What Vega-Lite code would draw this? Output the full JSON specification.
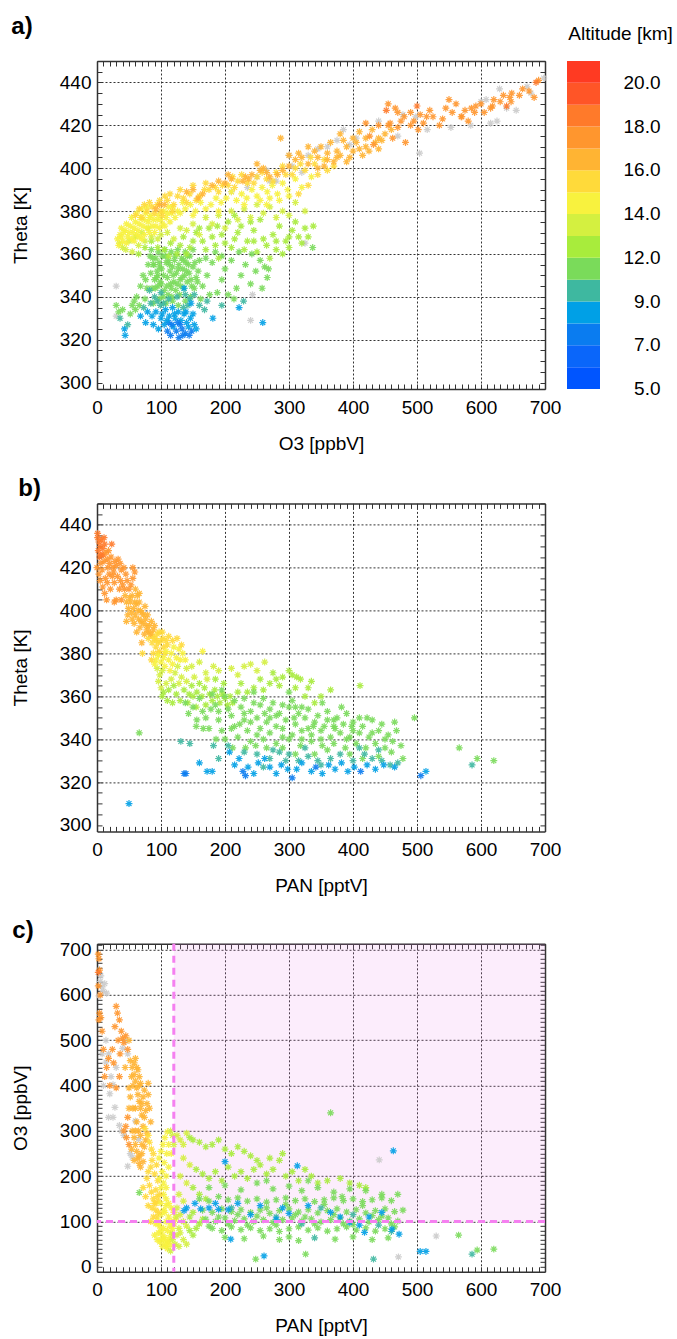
{
"$schema": "https://vega.github.io/schema/vega-lite/v6.json",
"padding": {"left": 11, "top": 15, "right": 0, "bottom": 0},
"background": "white",
"config": {
  "font": "Liberation Sans",
  "view": {"stroke": null},
  "title": {"fontSize": 24, "fontWeight": "bold", "anchor": "start", "frame": "bounds", "color": "#000", "font": "Liberation Sans"},
  "axis": {"labelFont": "Liberation Sans", "labelFontSize": 19, "labelColor": "#000", "titleFont": "Liberation Sans", "titleFontSize": 19, "titleFontWeight": "normal", "titleColor": "#000", "tickSize": -5, "tickColor": "#333", "tickWidth": 1, "domainColor": "#333", "domainWidth": 1.5, "labelFlush": false, "labelOverlap": false, "gridColor": "#333", "gridDash": [2, 2], "gridWidth": 1}
},
"datasets": {
"bar": [{"alt":5},{"alt":6},{"alt":7},{"alt":8},{"alt":9},{"alt":10.5},{"alt":12},{"alt":13},{"alt":14},{"alt":15},{"alt":16},{"alt":17},{"alt":18},{"alt":19},{"alt":20}],
"A": [
{"o3":305,"theta":401},{"o3":320,"theta":398},{"o3":360,"theta":410},{"o3":375,"theta":413},{"o3":395,"theta":411},{"o3":405,"theta":414},{"o3":440,"theta":422},{"o3":470,"theta":415},{"o3":478,"theta":425},{"o3":498,"theta":424},{"o3":504,"theta":407},{"o3":516,"theta":418},{"o3":553,"theta":419},{"o3":584,"theta":420},{"o3":615,"theta":421},{"o3":625,"theta":422},{"o3":608,"theta":432},{"o3":640,"theta":428},{"o3":672,"theta":438},{"o3":678,"theta":435},{"o3":629,"theta":437},{"o3":655,"theta":427},{"o3":600,"theta":431},{"o3":698,"theta":442},{"o3":250,"theta":396},{"o3":265,"theta":399},{"o3":210,"theta":389},{"o3":385,"theta":418},{"o3":330,"theta":406},{"o3":280,"theta":394},{"o3":300,"theta":406},{"o3":30,"theta":345},{"o3":30,"theta":331},{"o3":240,"theta":329},{"o3":243,"theta":341},{"o3":325,"theta":365},{"o3":270,"theta":394},{"o3":345,"theta":409},{"o3":235,"theta":391},
{"o3":88,"theta":337,"alt":11},{"o3":97,"theta":339,"alt":11},{"o3":108,"theta":337,"alt":11},{"o3":118,"theta":338,"alt":11},{"o3":127,"theta":336,"alt":11},{"o3":138,"theta":338,"alt":11},{"o3":146,"theta":340,"alt":11},
{"o3":86,"theta":344,"alt":11},{"o3":95,"theta":345,"alt":11},{"o3":105,"theta":343,"alt":11},{"o3":116,"theta":344,"alt":11},{"o3":125,"theta":346,"alt":11},{"o3":136,"theta":344,"alt":11},{"o3":148,"theta":345,"alt":11},
{"o3":90,"theta":348,"alt":11},{"o3":99,"theta":347,"alt":11},{"o3":110,"theta":349,"alt":11},{"o3":120,"theta":347,"alt":11},{"o3":130,"theta":348,"alt":11},{"o3":141,"theta":347,"alt":11},{"o3":155,"theta":349,"alt":11},
{"o3":84,"theta":351,"alt":11},{"o3":94,"theta":352,"alt":11},{"o3":104,"theta":350,"alt":11},{"o3":114,"theta":352,"alt":11},{"o3":124,"theta":351,"alt":11},{"o3":134,"theta":353,"alt":11},{"o3":144,"theta":351,"alt":11},{"o3":158,"theta":352,"alt":11},
{"o3":88,"theta":355,"alt":11},{"o3":98,"theta":354,"alt":11},{"o3":108,"theta":356,"alt":11},{"o3":118,"theta":354,"alt":11},{"o3":128,"theta":355,"alt":11},{"o3":139,"theta":356,"alt":11},{"o3":150,"theta":354,"alt":11},
{"o3":92,"theta":358,"alt":11},{"o3":102,"theta":359,"alt":11},{"o3":112,"theta":357,"alt":11},{"o3":122,"theta":359,"alt":11},{"o3":132,"theta":358,"alt":11},{"o3":145,"theta":359,"alt":11},{"o3":160,"theta":357,"alt":11},
{"o3":96,"theta":361,"alt":11},{"o3":106,"theta":362,"alt":11},{"o3":116,"theta":361,"alt":11},{"o3":126,"theta":362,"alt":11},{"o3":138,"theta":361,"alt":11},{"o3":150,"theta":362,"alt":11},
{"o3":100,"theta":346,"alt":11},{"o3":113,"theta":355,"alt":11},{"o3":123,"theta":343,"alt":11},{"o3":133,"theta":349,"alt":11},{"o3":143,"theta":355,"alt":11},{"o3":107,"theta":359,"alt":11},{"o3":119,"theta":350,"alt":11},{"o3":129,"theta":341,"alt":11},{"o3":95,"theta":350,"alt":11},{"o3":89,"theta":355,"alt":11},{"o3":140,"theta":352,"alt":11},{"o3":152,"theta":344,"alt":11},{"o3":103,"theta":340,"alt":11},{"o3":115,"theta":346,"alt":11},{"o3":135,"theta":357,"alt":11},
{"o3":91,"theta":344,"alt":11},{"o3":101,"theta":353,"alt":11},{"o3":111,"theta":341,"alt":11},{"o3":121,"theta":357,"alt":11},{"o3":131,"theta":345,"alt":11},{"o3":141,"theta":359,"alt":11},{"o3":93,"theta":349,"alt":11},{"o3":109,"theta":345,"alt":11},{"o3":127,"theta":353,"alt":11},{"o3":147,"theta":348,"alt":11},{"o3":137,"theta":350,"alt":11},{"o3":117,"theta":340,"alt":11},{"o3":87,"theta":358,"alt":11},{"o3":97,"theta":356,"alt":11},{"o3":153,"theta":356,"alt":11},{"o3":157,"theta":347,"alt":11},
{"o3":62,"theta":340,"alt":11},{"o3":68,"theta":345,"alt":11},{"o3":75,"theta":339,"alt":11},{"o3":72,"theta":350,"alt":11},{"o3":80,"theta":355,"alt":11},{"o3":78,"theta":344,"alt":11},{"o3":66,"theta":336,"alt":11},{"o3":58,"theta":338,"alt":11},{"o3":83,"theta":359,"alt":11},{"o3":60,"theta":334,"alt":11},{"o3":55,"theta":336,"alt":11},{"o3":30,"theta":336,"alt":11},{"o3":34,"theta":333,"alt":11},{"o3":40,"theta":334,"alt":11},{"o3":52,"theta":332,"alt":11},{"o3":76,"theta":348,"alt":11},{"o3":85,"theta":362,"alt":11},
{"o3":165,"theta":345,"alt":11},{"o3":172,"theta":350,"alt":11},{"o3":180,"theta":356,"alt":11},{"o3":188,"theta":342,"alt":11},{"o3":195,"theta":348,"alt":11},{"o3":200,"theta":353,"alt":11},{"o3":210,"theta":357,"alt":11},{"o3":218,"theta":344,"alt":11},{"o3":225,"theta":350,"alt":11},{"o3":232,"theta":355,"alt":11},{"o3":240,"theta":346,"alt":11},{"o3":248,"theta":352,"alt":11},{"o3":255,"theta":357,"alt":11},{"o3":262,"theta":354,"alt":11},{"o3":268,"theta":353,"alt":11},{"o3":176,"theta":341,"alt":11},{"o3":205,"theta":341,"alt":11},{"o3":214,"theta":339,"alt":11},{"o3":185,"theta":361,"alt":11},{"o3":162,"theta":339,"alt":11},{"o3":170,"theta":358,"alt":11},{"o3":195,"theta":359,"alt":11},{"o3":242,"theta":360,"alt":11},{"o3":258,"theta":344,"alt":11},{"o3":266,"theta":349,"alt":11},{"o3":337,"theta":363,"alt":11},{"o3":222,"theta":361,"alt":11},
{"o3":105,"theta":362,"alt":12.5},{"o3":115,"theta":365,"alt":12.5},{"o3":125,"theta":360,"alt":12.5},{"o3":135,"theta":368,"alt":12.5},{"o3":145,"theta":363,"alt":12.5},{"o3":155,"theta":370,"alt":12.5},{"o3":165,"theta":366,"alt":12.5},{"o3":175,"theta":372,"alt":12.5},{"o3":185,"theta":364,"alt":12.5},{"o3":195,"theta":369,"alt":12.5},{"o3":205,"theta":375,"alt":12.5},{"o3":215,"theta":367,"alt":12.5},{"o3":225,"theta":373,"alt":12.5},{"o3":235,"theta":366,"alt":12.5},{"o3":245,"theta":371,"alt":12.5},{"o3":255,"theta":376,"alt":12.5},{"o3":265,"theta":364,"alt":12.5},{"o3":275,"theta":369,"alt":12.5},{"o3":285,"theta":373,"alt":12.5},{"o3":295,"theta":366,"alt":12.5},{"o3":305,"theta":371,"alt":12.5},{"o3":315,"theta":368,"alt":12.5},{"o3":325,"theta":372,"alt":12.5},{"o3":270,"theta":358,"alt":12.5},{"o3":280,"theta":362,"alt":12.5},{"o3":290,"theta":360,"alt":12.5},{"o3":300,"theta":363,"alt":12.5},{"o3":320,"theta":365,"alt":12.5},{"o3":250,"theta":361,"alt":12.5},{"o3":260,"theta":367,"alt":12.5},{"o3":230,"theta":362,"alt":12.5},{"o3":210,"theta":363,"alt":12.5},{"o3":190,"theta":358,"alt":12.5},{"o3":170,"theta":362,"alt":12.5},{"o3":150,"theta":366,"alt":12.5},{"o3":140,"theta":360,"alt":12.5},{"o3":130,"theta":364,"alt":12.5},{"o3":112,"theta":359,"alt":12.5},{"o3":180,"theta":368,"alt":12.5},{"o3":240,"theta":375,"alt":12.5},{"o3":200,"theta":365,"alt":12.5},{"o3":220,"theta":370,"alt":12.5},{"o3":310,"theta":375,"alt":12.5},{"o3":338,"theta":373,"alt":12.5},{"o3":95,"theta":363,"alt":12.5},{"o3":85,"theta":366,"alt":12.5},{"o3":75,"theta":363,"alt":12.5},{"o3":65,"theta":360,"alt":12.5},{"o3":160,"theta":372,"alt":12.5},{"o3":188,"theta":373,"alt":12.5},{"o3":215,"theta":378,"alt":12.5},{"o3":245,"theta":366,"alt":12.5},{"o3":280,"theta":366,"alt":12.5},{"o3":300,"theta":368,"alt":12.5},{"o3":330,"theta":368,"alt":12.5},
{"o3":45,"theta":362,"alt":13.5},{"o3":55,"theta":361,"alt":13.5},{"o3":65,"theta":364,"alt":13.5},{"o3":75,"theta":366,"alt":13.5},{"o3":85,"theta":368,"alt":13.5},{"o3":95,"theta":367,"alt":13.5},{"o3":110,"theta":370,"alt":13.5},{"o3":130,"theta":372,"alt":13.5},{"o3":150,"theta":374,"alt":13.5},{"o3":170,"theta":377,"alt":13.5},{"o3":190,"theta":378,"alt":13.5},{"o3":210,"theta":380,"alt":13.5},{"o3":230,"theta":381,"alt":13.5},{"o3":250,"theta":383,"alt":13.5},{"o3":270,"theta":382,"alt":13.5},{"o3":290,"theta":380,"alt":13.5},{"o3":200,"theta":372,"alt":13.5},{"o3":240,"theta":377,"alt":13.5},{"o3":280,"theta":377,"alt":13.5},{"o3":160,"theta":369,"alt":13.5},{"o3":120,"theta":367,"alt":13.5},{"o3":180,"theta":374,"alt":13.5},{"o3":260,"theta":379,"alt":13.5},{"o3":300,"theta":378,"alt":13.5},{"o3":220,"theta":376,"alt":13.5},{"o3":40,"theta":363,"alt":13.5},{"o3":35,"theta":365,"alt":13.5},{"o3":50,"theta":366,"alt":13.5},{"o3":60,"theta":368,"alt":13.5},{"o3":70,"theta":370,"alt":13.5},{"o3":80,"theta":372,"alt":13.5},{"o3":100,"theta":369,"alt":13.5},{"o3":140,"theta":371,"alt":13.5},{"o3":310,"theta":384,"alt":13.5},{"o3":325,"theta":380,"alt":13.5},
{"o3":32,"theta":367,"alt":14.5},{"o3":36,"theta":369,"alt":14.5},{"o3":40,"theta":366,"alt":14.5},{"o3":44,"theta":371,"alt":14.5},{"o3":48,"theta":368,"alt":14.5},{"o3":52,"theta":373,"alt":14.5},{"o3":56,"theta":370,"alt":14.5},{"o3":60,"theta":375,"alt":14.5},{"o3":64,"theta":371,"alt":14.5},{"o3":68,"theta":377,"alt":14.5},{"o3":72,"theta":373,"alt":14.5},{"o3":76,"theta":379,"alt":14.5},{"o3":80,"theta":375,"alt":14.5},{"o3":84,"theta":378,"alt":14.5},{"o3":88,"theta":376,"alt":14.5},{"o3":92,"theta":373,"alt":14.5},{"o3":96,"theta":378,"alt":14.5},{"o3":100,"theta":376,"alt":14.5},{"o3":104,"theta":380,"alt":14.5},{"o3":108,"theta":377,"alt":14.5},{"o3":112,"theta":382,"alt":14.5},{"o3":116,"theta":379,"alt":14.5},{"o3":58,"theta":366,"alt":14.5},{"o3":66,"theta":368,"alt":14.5},{"o3":74,"theta":369,"alt":14.5},{"o3":82,"theta":370,"alt":14.5},{"o3":90,"theta":370,"alt":14.5},{"o3":98,"theta":372,"alt":14.5},{"o3":106,"theta":373,"alt":14.5},{"o3":114,"theta":375,"alt":14.5},{"o3":122,"theta":377,"alt":14.5},{"o3":130,"theta":379,"alt":14.5},{"o3":138,"theta":381,"alt":14.5},{"o3":146,"theta":383,"alt":14.5},{"o3":154,"theta":380,"alt":14.5},{"o3":162,"theta":384,"alt":14.5},{"o3":170,"theta":381,"alt":14.5},{"o3":178,"theta":383,"alt":14.5},{"o3":186,"theta":386,"alt":14.5},{"o3":194,"theta":384,"alt":14.5},{"o3":202,"theta":386,"alt":14.5},{"o3":210,"theta":389,"alt":14.5},{"o3":218,"theta":385,"alt":14.5},{"o3":226,"theta":388,"alt":14.5},{"o3":234,"theta":386,"alt":14.5},{"o3":242,"theta":390,"alt":14.5},{"o3":250,"theta":387,"alt":14.5},{"o3":258,"theta":391,"alt":14.5},{"o3":266,"theta":389,"alt":14.5},{"o3":274,"theta":392,"alt":14.5},{"o3":282,"theta":388,"alt":14.5},{"o3":290,"theta":393,"alt":14.5},{"o3":298,"theta":390,"alt":14.5},{"o3":46,"theta":374,"alt":14.5},{"o3":54,"theta":377,"alt":14.5},{"o3":62,"theta":379,"alt":14.5},{"o3":70,"theta":381,"alt":14.5},{"o3":78,"theta":382,"alt":14.5},{"o3":38,"theta":372,"alt":14.5},{"o3":190,"theta":380,"alt":14.5},{"o3":230,"theta":383,"alt":14.5},{"o3":270,"theta":386,"alt":14.5},{"o3":150,"theta":378,"alt":14.5},{"o3":310,"theta":395,"alt":14.5},{"o3":320,"theta":391,"alt":14.5},{"o3":335,"theta":396,"alt":14.5},
{"o3":34,"theta":364,"alt":14.5},{"o3":38,"theta":368,"alt":14.5},{"o3":42,"theta":370,"alt":14.5},{"o3":46,"theta":365,"alt":14.5},{"o3":50,"theta":370,"alt":14.5},{"o3":54,"theta":367,"alt":14.5},{"o3":58,"theta":372,"alt":14.5},{"o3":62,"theta":369,"alt":14.5},{"o3":66,"theta":374,"alt":14.5},{"o3":70,"theta":367,"alt":14.5},{"o3":74,"theta":376,"alt":14.5},{"o3":78,"theta":372,"alt":14.5},{"o3":82,"theta":377,"alt":14.5},{"o3":86,"theta":373,"alt":14.5},{"o3":94,"theta":376,"alt":14.5},{"o3":102,"theta":374,"alt":14.5},{"o3":110,"theta":379,"alt":14.5},{"o3":118,"theta":382,"alt":14.5},{"o3":126,"theta":380,"alt":14.5},{"o3":134,"theta":384,"alt":14.5},{"o3":255,"theta":385,"alt":14.5},{"o3":265,"theta":383,"alt":14.5},{"o3":285,"theta":385,"alt":14.5},{"o3":300,"theta":387,"alt":14.5},
{"o3":70,"theta":377,"alt":15.5},{"o3":78,"theta":380,"alt":15.5},{"o3":86,"theta":382,"alt":15.5},{"o3":94,"theta":383,"alt":15.5},{"o3":100,"theta":380,"alt":15.5},{"o3":110,"theta":385,"alt":15.5},{"o3":120,"theta":383,"alt":15.5},{"o3":126,"theta":387,"alt":15.5},{"o3":135,"theta":386,"alt":15.5},{"o3":145,"theta":388,"alt":15.5},{"o3":160,"theta":387,"alt":15.5},{"o3":168,"theta":390,"alt":15.5},{"o3":175,"theta":390,"alt":15.5},{"o3":190,"theta":389,"alt":15.5},{"o3":205,"theta":392,"alt":15.5},{"o3":220,"theta":394,"alt":15.5},{"o3":235,"theta":393,"alt":15.5},{"o3":250,"theta":396,"alt":15.5},{"o3":265,"theta":395,"alt":15.5},{"o3":280,"theta":398,"alt":15.5},{"o3":295,"theta":397,"alt":15.5},{"o3":310,"theta":400,"alt":15.5},{"o3":325,"theta":399,"alt":15.5},{"o3":340,"theta":402,"alt":15.5},{"o3":90,"theta":379,"alt":15.5},{"o3":102,"theta":378,"alt":15.5},{"o3":118,"theta":380,"alt":15.5},{"o3":140,"theta":384,"alt":15.5},{"o3":155,"theta":385,"alt":15.5},{"o3":185,"theta":391,"alt":15.5},{"o3":215,"theta":391,"alt":15.5},{"o3":245,"theta":393,"alt":15.5},{"o3":275,"theta":394,"alt":15.5},{"o3":305,"theta":397,"alt":15.5},{"o3":355,"theta":404,"alt":15.5},{"o3":370,"theta":401,"alt":15.5},
{"o3":60,"theta":378,"alt":15.5},{"o3":66,"theta":381,"alt":15.5},{"o3":74,"theta":383,"alt":15.5},{"o3":82,"theta":384,"alt":15.5},{"o3":98,"theta":385,"alt":15.5},{"o3":106,"theta":387,"alt":15.5},{"o3":114,"theta":388,"alt":15.5},{"o3":130,"theta":390,"alt":15.5},{"o3":150,"theta":392,"alt":15.5},{"o3":170,"theta":393,"alt":15.5},{"o3":196,"theta":392,"alt":15.5},{"o3":212,"theta":396,"alt":15.5},{"o3":226,"theta":397,"alt":15.5},{"o3":258,"theta":398,"alt":15.5},{"o3":290,"theta":401,"alt":15.5},{"o3":318,"theta":402,"alt":15.5},{"o3":334,"theta":405,"alt":15.5},{"o3":315,"theta":388,"alt":15.5},{"o3":330,"theta":392,"alt":15.5},{"o3":345,"theta":397,"alt":15.5},{"o3":360,"theta":399,"alt":15.5},
{"o3":92,"theta":381,"alt":16.5},{"o3":98,"theta":383,"alt":16.5},{"o3":105,"theta":383,"alt":16.5},{"o3":140,"theta":389,"alt":16.5},{"o3":150,"theta":390,"alt":16.5},{"o3":158,"theta":386,"alt":16.5},{"o3":165,"theta":388,"alt":16.5},{"o3":228,"theta":394,"alt":16.5},{"o3":232,"theta":396,"alt":16.5},{"o3":237,"theta":395,"alt":16.5},{"o3":242,"theta":397,"alt":16.5},{"o3":300,"theta":401,"alt":16.5},{"o3":310,"theta":404,"alt":16.5},{"o3":320,"theta":405,"alt":16.5},{"o3":330,"theta":402,"alt":16.5},{"o3":345,"theta":405,"alt":16.5},{"o3":360,"theta":407,"alt":16.5},{"o3":375,"theta":408,"alt":16.5},{"o3":390,"theta":410,"alt":16.5},{"o3":405,"theta":412,"alt":16.5},{"o3":420,"theta":414,"alt":16.5},{"o3":435,"theta":412,"alt":16.5},{"o3":450,"theta":416,"alt":16.5},{"o3":440,"theta":409,"alt":16.5},{"o3":395,"theta":405,"alt":16.5},{"o3":370,"theta":403,"alt":16.5},{"o3":355,"theta":401,"alt":16.5},{"o3":385,"theta":413,"alt":16.5},{"o3":410,"theta":417,"alt":16.5},{"o3":290,"theta":399,"alt":16.5},{"o3":282,"theta":397,"alt":16.5},{"o3":270,"theta":396,"alt":16.5},{"o3":260,"theta":400,"alt":16.5},{"o3":250,"theta":402,"alt":16.5},{"o3":265,"theta":398,"alt":16.5},{"o3":255,"theta":399,"alt":16.5},{"o3":200,"theta":393,"alt":16.5},{"o3":210,"theta":395,"alt":16.5},{"o3":180,"theta":392,"alt":16.5},{"o3":190,"theta":394,"alt":16.5},{"o3":300,"theta":406,"alt":16.5},{"o3":315,"theta":407,"alt":16.5},{"o3":340,"theta":408,"alt":16.5},{"o3":350,"theta":410,"alt":16.5},{"o3":365,"theta":412,"alt":16.5},{"o3":380,"theta":416,"alt":16.5},{"o3":400,"theta":408,"alt":16.5},{"o3":415,"theta":406,"alt":16.5},{"o3":430,"theta":418,"alt":16.5},{"o3":445,"theta":413,"alt":16.5},{"o3":460,"theta":418,"alt":16.5},{"o3":287,"theta":414,"alt":16.5},{"o3":205,"theta":397,"alt":16.5},{"o3":330,"theta":410,"alt":16.5},{"o3":360,"theta":404,"alt":16.5},{"o3":380,"theta":406,"alt":16.5},{"o3":400,"theta":414,"alt":16.5},{"o3":420,"theta":410,"alt":16.5},{"o3":375,"theta":405,"alt":16.5},{"o3":390,"theta":403,"alt":16.5},{"o3":410,"theta":409,"alt":16.5},{"o3":425,"theta":408,"alt":16.5},{"o3":440,"theta":414,"alt":16.5},{"o3":345,"theta":400,"alt":16.5},
{"o3":420,"theta":421,"alt":17.5},{"o3":440,"theta":420,"alt":17.5},{"o3":458,"theta":421,"alt":17.5},{"o3":470,"theta":419,"alt":17.5},{"o3":480,"theta":424,"alt":17.5},{"o3":495,"theta":422,"alt":17.5},{"o3":510,"theta":421,"alt":17.5},{"o3":525,"theta":424,"alt":17.5},{"o3":540,"theta":423,"alt":17.5},{"o3":555,"theta":426,"alt":17.5},{"o3":570,"theta":424,"alt":17.5},{"o3":585,"theta":428,"alt":17.5},{"o3":600,"theta":430,"alt":17.5},{"o3":615,"theta":428,"alt":17.5},{"o3":630,"theta":431,"alt":17.5},{"o3":645,"theta":433,"alt":17.5},{"o3":660,"theta":434,"alt":17.5},{"o3":675,"theta":436,"alt":17.5},{"o3":683,"theta":433,"alt":17.5},{"o3":648,"theta":435,"alt":17.5},{"o3":647,"theta":431,"alt":17.5},{"o3":618,"theta":429,"alt":17.5},{"o3":592,"theta":429,"alt":17.5},{"o3":590,"theta":426,"alt":17.5},{"o3":550,"theta":432,"alt":17.5},{"o3":561,"theta":430,"alt":17.5},{"o3":569,"theta":424,"alt":17.5},{"o3":462,"theta":414,"alt":17.5},{"o3":482,"theta":412,"alt":17.5},{"o3":502,"theta":418,"alt":17.5},{"o3":520,"theta":427,"alt":17.5},{"o3":466,"theta":428,"alt":17.5},{"o3":455,"theta":430,"alt":17.5},{"o3":426,"theta":415,"alt":17.5},{"o3":432,"theta":411,"alt":17.5},{"o3":490,"theta":420,"alt":17.5},{"o3":505,"theta":425,"alt":17.5},{"o3":535,"theta":420,"alt":17.5},{"o3":580,"theta":422,"alt":17.5},{"o3":620,"theta":432,"alt":17.5},{"o3":665,"theta":437,"alt":17.5},{"o3":690,"theta":441,"alt":17.5},{"o3":455,"theta":420,"alt":17.5},{"o3":475,"theta":422,"alt":17.5},{"o3":515,"theta":424,"alt":17.5},{"o3":545,"theta":428,"alt":17.5},{"o3":575,"theta":427,"alt":17.5},{"o3":605,"theta":426,"alt":17.5},{"o3":635,"theta":434,"alt":17.5},{"o3":470,"theta":426,"alt":17.5},{"o3":490,"theta":426,"alt":17.5},
{"o3":686,"theta":440,"alt":18.5},{"o3":452,"theta":427,"alt":18.5},{"o3":500,"theta":429,"alt":18.5},{"o3":640,"theta":429,"alt":18.5},
{"o3":90,"theta":340,"alt":10},{"o3":100,"theta":342,"alt":10},{"o3":112,"theta":339,"alt":10},{"o3":125,"theta":340,"alt":10},{"o3":138,"theta":341,"alt":10},{"o3":145,"theta":339,"alt":10},{"o3":82,"theta":343,"alt":10},{"o3":160,"theta":336,"alt":10},{"o3":195,"theta":336,"alt":10},
{"o3":100,"theta":330,"alt":8.5},{"o3":105,"theta":327,"alt":8.5},{"o3":110,"theta":324,"alt":7.5},{"o3":115,"theta":322,"alt":7.5},{"o3":119,"theta":326,"alt":8.5},{"o3":124,"theta":324,"alt":7.5},{"o3":128,"theta":321,"alt":7.5},{"o3":133,"theta":325,"alt":7.5},{"o3":138,"theta":323,"alt":7.5},{"o3":143,"theta":326,"alt":8.5},{"o3":148,"theta":324,"alt":7.5},{"o3":152,"theta":327,"alt":8.5},{"o3":146,"theta":330,"alt":8.5},{"o3":140,"theta":328,"alt":8.5},{"o3":131,"theta":329,"alt":8.5},{"o3":122,"theta":330,"alt":8.5},{"o3":113,"theta":331,"alt":8.5},{"o3":107,"theta":334,"alt":8.5},{"o3":99,"theta":336,"alt":9},{"o3":92,"theta":333,"alt":8.5},{"o3":86,"theta":331,"alt":8.5},{"o3":94,"theta":338,"alt":9},{"o3":104,"theta":337,"alt":9},{"o3":118,"theta":335,"alt":8.5},{"o3":127,"theta":333,"alt":8.5},{"o3":136,"theta":332,"alt":8.5},{"o3":150,"theta":332,"alt":8.5},{"o3":155,"theta":325,"alt":8.5},{"o3":117,"theta":327,"alt":7.5},{"o3":142,"theta":336,"alt":9},{"o3":84,"theta":337,"alt":9.5},{"o3":79,"theta":333,"alt":8.5},{"o3":68,"theta":331,"alt":8.5},{"o3":73,"theta":335,"alt":9},{"o3":76,"theta":328,"alt":8.5},{"o3":88,"theta":327,"alt":8.5},{"o3":96,"theta":325,"alt":8.5},{"o3":112,"theta":328,"alt":7.5},{"o3":130,"theta":327,"alt":7.5},{"o3":135,"theta":335,"alt":9},{"o3":102,"theta":332,"alt":8.5},{"o3":109,"theta":329,"alt":8.5},{"o3":126,"theta":328,"alt":7.5},{"o3":134,"theta":322,"alt":7.5},{"o3":144,"theta":322,"alt":7.5},{"o3":121,"theta":332,"alt":8.5},{"o3":139,"theta":333,"alt":8.5},
{"o3":44,"theta":322,"alt":8.5},{"o3":43,"theta":325,"alt":8.5},{"o3":48,"theta":327,"alt":9},{"o3":36,"theta":330,"alt":9.5},{"o3":136,"theta":344,"alt":8.5},{"o3":147,"theta":337,"alt":8.5},{"o3":168,"theta":334,"alt":10},{"o3":181,"theta":330,"alt":8.5},{"o3":222,"theta":335,"alt":8.5},{"o3":229,"theta":338,"alt":10},{"o3":259,"theta":328,"alt":8.5},{"o3":152,"theta":341,"alt":9},{"o3":172,"theta":338,"alt":9}
],
"B": [
{"pan":1,"theta":434,"alt":18.5},{"pan":3,"theta":432,"alt":18.5},{"pan":5,"theta":430,"alt":18.5},{"pan":2,"theta":428,"alt":18.5},{"pan":7,"theta":433,"alt":18.5},{"pan":9,"theta":429,"alt":18.5},{"pan":4,"theta":425,"alt":18.5},{"pan":6,"theta":422,"alt":17.5},{"pan":10,"theta":426,"alt":18.5},{"pan":12,"theta":431,"alt":18.5},{"pan":14,"theta":427,"alt":17.5},{"pan":0,"theta":420,"alt":17.5},{"pan":3,"theta":417,"alt":17.5},{"pan":8,"theta":419,"alt":17.5},{"pan":11,"theta":423,"alt":17.5},{"pan":16,"theta":424,"alt":17.5},{"pan":18,"theta":428,"alt":17.5},{"pan":20,"theta":422,"alt":17.5},{"pan":22,"theta":425,"alt":17.5},{"pan":25,"theta":420,"alt":17.5},{"pan":28,"theta":423,"alt":17.5},{"pan":30,"theta":421,"alt":17.5},{"pan":33,"theta":424,"alt":17.5},{"pan":36,"theta":422,"alt":17.5},{"pan":38,"theta":419,"alt":17.5},{"pan":13,"theta":415,"alt":17.5},{"pan":16,"theta":413,"alt":17.5},{"pan":19,"theta":417,"alt":17.5},{"pan":24,"theta":416,"alt":17.5},{"pan":27,"theta":413,"alt":17.5},{"pan":9,"theta":411,"alt":17.5},{"pan":12,"theta":408,"alt":17.5},{"pan":21,"theta":410,"alt":17.5},{"pan":5,"theta":414,"alt":17.5},{"pan":15,"theta":405,"alt":17.5},{"pan":27,"theta":404,"alt":17.5},{"pan":1,"theta":436,"alt":18.5},{"pan":23,"theta":431,"alt":18.5},
{"pan":6,"theta":426,"alt":18.5},{"pan":11,"theta":434,"alt":18.5},{"pan":17,"theta":420,"alt":17.5},{"pan":26,"theta":418,"alt":17.5},{"pan":32,"theta":416,"alt":17.5},{"pan":37,"theta":414,"alt":17.5},{"pan":43,"theta":410,"alt":17.5},{"pan":46,"theta":404,"alt":16.5},{"pan":51,"theta":406,"alt":16.5},{"pan":54,"theta":399,"alt":16.5},{"pan":59,"theta":404,"alt":16.5},{"pan":64,"theta":400,"alt":16.5},{"pan":69,"theta":395,"alt":16.5},{"pan":73,"theta":398,"alt":16.5},{"pan":77,"theta":393,"alt":16.5},{"pan":81,"theta":390,"alt":16.5},{"pan":87,"theta":388,"alt":15.5},{"pan":93,"theta":386,"alt":15.5},{"pan":97,"theta":390,"alt":15.5},{"pan":103,"theta":387,"alt":15.5},{"pan":106,"theta":380,"alt":15.5},
{"pan":42,"theta":420,"alt":17.5},{"pan":45,"theta":417,"alt":17.5},{"pan":40,"theta":412,"alt":17.5},{"pan":47,"theta":414,"alt":17.5},{"pan":50,"theta":410,"alt":17.5},{"pan":44,"theta":407,"alt":16.5},{"pan":52,"theta":404,"alt":16.5},{"pan":55,"theta":407,"alt":16.5},{"pan":57,"theta":401,"alt":16.5},{"pan":49,"theta":401,"alt":16.5},{"pan":60,"theta":398,"alt":16.5},{"pan":62,"theta":403,"alt":16.5},{"pan":65,"theta":396,"alt":16.5},{"pan":58,"theta":394,"alt":16.5},{"pan":67,"theta":392,"alt":16.5},{"pan":70,"theta":399,"alt":16.5},{"pan":72,"theta":394,"alt":16.5},{"pan":74,"theta":389,"alt":16.5},{"pan":76,"theta":396,"alt":16.5},{"pan":78,"theta":391,"alt":16.5},{"pan":80,"theta":387,"alt":15.5},{"pan":82,"theta":393,"alt":16.5},{"pan":84,"theta":389,"alt":16.5},{"pan":86,"theta":385,"alt":15.5},{"pan":88,"theta":391,"alt":16.5},{"pan":90,"theta":387,"alt":15.5},{"pan":92,"theta":383,"alt":15.5},{"pan":94,"theta":389,"alt":15.5},{"pan":96,"theta":385,"alt":15.5},{"pan":98,"theta":381,"alt":15.5},{"pan":100,"theta":386,"alt":15.5},{"pan":102,"theta":390,"alt":15.5},{"pan":104,"theta":383,"alt":15.5},{"pan":53,"theta":412,"alt":17.5},{"pan":56,"theta":415,"alt":17.5},{"pan":60,"theta":410,"alt":16.5},{"pan":63,"theta":407,"alt":16.5},{"pan":66,"theta":404,"alt":16.5},{"pan":68,"theta":400,"alt":16.5},{"pan":48,"theta":398,"alt":16.5},{"pan":55,"theta":396,"alt":16.5},{"pan":62,"theta":390,"alt":16.5},{"pan":70,"theta":385,"alt":16.5},{"pan":35,"theta":410,"alt":17.5},{"pan":38,"theta":405,"alt":17.5},{"pan":46,"theta":395,"alt":16.5},{"pan":75,"theta":402,"alt":16.5},{"pan":79,"theta":398,"alt":16.5},{"pan":85,"theta":395,"alt":16.5},{"pan":90,"theta":393,"alt":16.5},{"pan":95,"theta":380,"alt":15.5},{"pan":108,"theta":386,"alt":15.5},{"pan":112,"theta":388,"alt":15.5},{"pan":56,"theta":420,"alt":17.5},{"pan":59,"theta":418,"alt":17.5},{"pan":30,"theta":405,"alt":17.5},{"pan":66,"theta":408,"alt":16.5},{"pan":71,"theta":380,"alt":15.5},
{"pan":88,"theta":380,"alt":15.5},{"pan":92,"theta":377,"alt":14.5},{"pan":96,"theta":379,"alt":14.5},{"pan":100,"theta":376,"alt":14.5},{"pan":104,"theta":378,"alt":14.5},{"pan":108,"theta":381,"alt":14.5},{"pan":112,"theta":377,"alt":14.5},{"pan":116,"theta":380,"alt":14.5},{"pan":120,"theta":383,"alt":14.5},{"pan":124,"theta":378,"alt":14.5},{"pan":128,"theta":382,"alt":14.5},{"pan":106,"theta":374,"alt":14.5},{"pan":114,"theta":372,"alt":14.5},{"pan":118,"theta":375,"alt":14.5},{"pan":122,"theta":371,"alt":13.5},{"pan":126,"theta":374,"alt":13.5},{"pan":130,"theta":377,"alt":14.5},{"pan":134,"theta":380,"alt":14.5},{"pan":110,"theta":384,"alt":15.5},{"pan":118,"theta":386,"alt":15.5},{"pan":125,"theta":387,"alt":15.5},{"pan":132,"theta":384,"alt":15.5},{"pan":138,"theta":377,"alt":14.5},{"pan":102,"theta":372,"alt":13.5},{"pan":98,"theta":370,"alt":13.5},{"pan":94,"theta":373,"alt":13.5},{"pan":140,"theta":373,"alt":13.5},{"pan":90,"theta":375,"alt":14.5},{"pan":85,"theta":377,"alt":15.5},
{"pan":96,"theta":367,"alt":13.5},{"pan":100,"theta":364,"alt":13.5},{"pan":104,"theta":362,"alt":12.5},{"pan":108,"theta":366,"alt":13.5},{"pan":112,"theta":363,"alt":12.5},{"pan":116,"theta":368,"alt":13.5},{"pan":120,"theta":365,"alt":12.5},{"pan":124,"theta":361,"alt":12.5},{"pan":128,"theta":366,"alt":13.5},{"pan":132,"theta":369,"alt":13.5},{"pan":136,"theta":363,"alt":12.5},{"pan":140,"theta":367,"alt":13.5},{"pan":144,"theta":361,"alt":12.5},{"pan":148,"theta":365,"alt":12.5},{"pan":152,"theta":369,"alt":13.5},{"pan":156,"theta":362,"alt":12.5},{"pan":160,"theta":366,"alt":12.5},{"pan":164,"theta":360,"alt":12.5},{"pan":168,"theta":364,"alt":12.5},{"pan":172,"theta":368,"alt":13.5},{"pan":176,"theta":361,"alt":12.5},{"pan":180,"theta":358,"alt":12.5},{"pan":184,"theta":363,"alt":12.5},{"pan":188,"theta":360,"alt":12.5},{"pan":192,"theta":357,"alt":12.5},{"pan":196,"theta":361,"alt":12.5},{"pan":200,"theta":359,"alt":12.5},{"pan":204,"theta":356,"alt":12.5},{"pan":208,"theta":360,"alt":12.5},{"pan":212,"theta":357,"alt":12.5},{"pan":102,"theta":360,"alt":12.5},{"pan":110,"theta":358,"alt":12.5},{"pan":118,"theta":357,"alt":12.5},{"pan":130,"theta":358,"alt":12.5},{"pan":142,"theta":357,"alt":12.5},{"pan":155,"theta":355,"alt":12.5},{"pan":148,"theta":374,"alt":13.5},{"pan":160,"theta":376,"alt":13.5},{"pan":165,"theta":381,"alt":14.5},{"pan":170,"theta":371,"alt":13.5},{"pan":182,"theta":374,"alt":13.5},{"pan":190,"theta":372,"alt":13.5},{"pan":210,"theta":373,"alt":13.5},{"pan":220,"theta":370,"alt":13.5},{"pan":230,"theta":374,"alt":13.5},{"pan":240,"theta":375,"alt":13.5},{"pan":250,"theta":372,"alt":13.5},{"pan":255,"theta":368,"alt":12.5},{"pan":262,"theta":376,"alt":13.5},{"pan":275,"theta":371,"alt":12.5},{"pan":290,"theta":369,"alt":12.5},{"pan":305,"theta":370,"alt":12.5},{"pan":312,"theta":369,"alt":12.5},{"pan":318,"theta":368,"alt":12.5},{"pan":325,"theta":360,"alt":12.5},{"pan":300,"theta":372,"alt":12.5},{"pan":270,"theta":366,"alt":12.5},{"pan":285,"theta":365,"alt":12.5},{"pan":245,"theta":364,"alt":12.5},{"pan":225,"theta":366,"alt":12.5},{"pan":235,"theta":362,"alt":12.5},{"pan":198,"theta":366,"alt":12.5},{"pan":365,"theta":363,"alt":12.5},{"pan":411,"theta":365,"alt":12.5},{"pan":350,"theta":360,"alt":12.5},{"pan":340,"theta":357,"alt":12.5},{"pan":330,"theta":364,"alt":12.5},{"pan":220,"theta":362,"alt":12.5},{"pan":260,"theta":363,"alt":12.5},{"pan":280,"theta":368,"alt":12.5},{"pan":310,"theta":364,"alt":12.5},{"pan":335,"theta":367,"alt":12.5},{"pan":185,"theta":368,"alt":12.5},{"pan":150,"theta":360,"alt":12.5},{"pan":170,"theta":356,"alt":12.5},
{"pan":160,"theta":359,"alt":11},{"pan":180,"theta":361,"alt":11},{"pan":200,"theta":360,"alt":11},{"pan":215,"theta":358,"alt":11},{"pan":230,"theta":359,"alt":11},{"pan":245,"theta":357,"alt":11},{"pan":260,"theta":359,"alt":11},{"pan":275,"theta":357,"alt":11},{"pan":290,"theta":356,"alt":11},{"pan":305,"theta":358,"alt":11},{"pan":320,"theta":355,"alt":11},
{"pan":150,"theta":355,"alt":11},{"pan":165,"theta":353,"alt":11},{"pan":185,"theta":356,"alt":11},{"pan":205,"theta":354,"alt":11},{"pan":225,"theta":355,"alt":11},{"pan":240,"theta":353,"alt":11},{"pan":255,"theta":356,"alt":11},{"pan":270,"theta":354,"alt":11},{"pan":285,"theta":352,"alt":11},{"pan":300,"theta":355,"alt":11},{"pan":315,"theta":352,"alt":11},{"pan":330,"theta":354,"alt":11},{"pan":345,"theta":351,"alt":11},{"pan":360,"theta":353,"alt":11},{"pan":375,"theta":350,"alt":11},{"pan":390,"theta":352,"alt":11},
{"pan":170,"theta":350,"alt":11},{"pan":190,"theta":349,"alt":11},{"pan":210,"theta":351,"alt":11},{"pan":230,"theta":349,"alt":11},{"pan":250,"theta":350,"alt":11},{"pan":265,"theta":348,"alt":11},{"pan":280,"theta":351,"alt":11},{"pan":295,"theta":349,"alt":11},{"pan":310,"theta":347,"alt":11},{"pan":325,"theta":350,"alt":11},{"pan":340,"theta":348,"alt":11},{"pan":355,"theta":346,"alt":11},{"pan":370,"theta":349,"alt":11},{"pan":385,"theta":347,"alt":11},{"pan":400,"theta":348,"alt":11},{"pan":415,"theta":346,"alt":11},{"pan":430,"theta":349,"alt":11},{"pan":445,"theta":347,"alt":11},
{"pan":175,"theta":345,"alt":11},{"pan":195,"theta":344,"alt":11},{"pan":215,"theta":346,"alt":11},{"pan":235,"theta":344,"alt":11},{"pan":255,"theta":345,"alt":11},{"pan":270,"theta":343,"alt":11},{"pan":290,"theta":345,"alt":11},{"pan":305,"theta":342,"alt":11},{"pan":320,"theta":344,"alt":11},{"pan":335,"theta":342,"alt":11},{"pan":350,"theta":344,"alt":11},{"pan":365,"theta":341,"alt":11},{"pan":380,"theta":343,"alt":11},{"pan":395,"theta":341,"alt":11},{"pan":410,"theta":343,"alt":11},{"pan":425,"theta":341,"alt":11},{"pan":440,"theta":344,"alt":11},{"pan":455,"theta":342,"alt":11},{"pan":468,"theta":344,"alt":11},
{"pan":200,"theta":340,"alt":11},{"pan":220,"theta":341,"alt":11},{"pan":240,"theta":339,"alt":11},{"pan":260,"theta":340,"alt":11},{"pan":280,"theta":338,"alt":11},{"pan":300,"theta":340,"alt":11},{"pan":318,"theta":337,"alt":11},{"pan":335,"theta":339,"alt":11},{"pan":352,"theta":337,"alt":11},{"pan":370,"theta":338,"alt":11},{"pan":388,"theta":336,"alt":11},{"pan":405,"theta":338,"alt":11},{"pan":420,"theta":336,"alt":11},{"pan":435,"theta":338,"alt":11},{"pan":450,"theta":336,"alt":11},{"pan":462,"theta":339,"alt":11},{"pan":475,"theta":337,"alt":11},
{"pan":190,"theta":353,"alt":11},{"pan":210,"theta":345,"alt":11},{"pan":230,"theta":352,"alt":11},{"pan":250,"theta":342,"alt":11},{"pan":270,"theta":350,"alt":11},{"pan":290,"theta":341,"alt":11},{"pan":310,"theta":355,"alt":11},{"pan":330,"theta":345,"alt":11},{"pan":350,"theta":340,"alt":11},{"pan":370,"theta":346,"alt":11},{"pan":390,"theta":340,"alt":11},{"pan":410,"theta":350,"alt":11},{"pan":430,"theta":343,"alt":11},{"pan":450,"theta":340,"alt":11},{"pan":465,"theta":348,"alt":11},{"pan":240,"theta":348,"alt":11},{"pan":280,"theta":346,"alt":11},{"pan":320,"theta":340,"alt":11},{"pan":360,"theta":349,"alt":11},{"pan":400,"theta":344,"alt":11},
{"pan":138,"theta":357,"alt":11},{"pan":143,"theta":352,"alt":11},{"pan":156,"theta":349,"alt":11},{"pan":166,"theta":345,"alt":11},{"pan":186,"theta":340,"alt":11},{"pan":212,"theta":336,"alt":11},{"pan":232,"theta":336,"alt":11},{"pan":248,"theta":337,"alt":11},{"pan":265,"theta":336,"alt":11},{"pan":290,"theta":336,"alt":11},{"pan":310,"theta":333,"alt":11},{"pan":340,"theta":333,"alt":11},{"pan":360,"theta":335,"alt":11},{"pan":395,"theta":333,"alt":11},{"pan":415,"theta":331,"alt":11},{"pan":440,"theta":332,"alt":11},{"pan":460,"theta":334,"alt":11},{"pan":478,"theta":331,"alt":11},{"pan":496,"theta":350,"alt":11},{"pan":566,"theta":336,"alt":11},{"pan":594,"theta":331,"alt":11},{"pan":620,"theta":330,"alt":11},{"pan":66,"theta":343,"alt":11},{"pan":155,"theta":346,"alt":11},{"pan":178,"theta":354,"alt":11},{"pan":223,"theta":347,"alt":11},{"pan":262,"theta":352,"alt":11},{"pan":308,"theta":350,"alt":11},{"pan":338,"theta":346,"alt":11},{"pan":372,"theta":345,"alt":11},{"pan":398,"theta":346,"alt":11},{"pan":422,"theta":350,"alt":11},{"pan":382,"theta":355,"alt":11},{"pan":352,"theta":357,"alt":11},{"pan":300,"theta":362,"alt":11},{"pan":245,"theta":362,"alt":11},{"pan":195,"theta":363,"alt":11},
{"pan":230,"theta":334,"alt":10},{"pan":250,"theta":333,"alt":10},{"pan":270,"theta":331,"alt":10},{"pan":285,"theta":334,"alt":10},{"pan":295,"theta":330,"alt":10},{"pan":315,"theta":330,"alt":10},{"pan":330,"theta":332,"alt":10},{"pan":345,"theta":330,"alt":10},{"pan":365,"theta":331,"alt":10},{"pan":380,"theta":333,"alt":10},{"pan":400,"theta":330,"alt":10},{"pan":418,"theta":333,"alt":10},{"pan":430,"theta":331,"alt":10},{"pan":445,"theta":330,"alt":10},{"pan":458,"theta":328,"alt":10},{"pan":470,"theta":329,"alt":10},{"pan":586,"theta":328,"alt":10},{"pan":131,"theta":339,"alt":10},{"pan":182,"theta":337,"alt":10},{"pan":205,"theta":337,"alt":10},{"pan":260,"theta":327,"alt":10},{"pan":325,"theta":336,"alt":10},{"pan":350,"theta":328,"alt":10},{"pan":440,"theta":335,"alt":10},{"pan":410,"theta":336,"alt":10},
{"pan":136,"theta":324,"alt":7.5},{"pan":139,"theta":324,"alt":7.5},{"pan":160,"theta":329,"alt":8.5},{"pan":172,"theta":325,"alt":8.5},{"pan":180,"theta":325,"alt":8.5},{"pan":50,"theta":310,"alt":8.5},{"pan":207,"theta":334,"alt":8.5},{"pan":215,"theta":328,"alt":8.5},{"pan":222,"theta":331,"alt":8.5},{"pan":228,"theta":325,"alt":7.5},{"pan":232,"theta":323,"alt":7.5},{"pan":236,"theta":327,"alt":8.5},{"pan":245,"theta":324,"alt":8.5},{"pan":252,"theta":329,"alt":8.5},{"pan":262,"theta":331,"alt":8.5},{"pan":270,"theta":327,"alt":8.5},{"pan":280,"theta":324,"alt":8.5},{"pan":288,"theta":328,"alt":8.5},{"pan":298,"theta":326,"alt":8.5},{"pan":305,"theta":322,"alt":7.5},{"pan":312,"theta":326,"alt":8.5},{"pan":320,"theta":329,"alt":8.5},{"pan":335,"theta":325,"alt":8.5},{"pan":342,"theta":327,"alt":7.5},{"pan":352,"theta":324,"alt":8.5},{"pan":362,"theta":328,"alt":8.5},{"pan":372,"theta":326,"alt":8.5},{"pan":382,"theta":329,"alt":8.5},{"pan":392,"theta":325,"alt":8.5},{"pan":402,"theta":327,"alt":8.5},{"pan":412,"theta":325,"alt":7.5},{"pan":422,"theta":328,"alt":8.5},{"pan":435,"theta":326,"alt":8.5},{"pan":448,"theta":328,"alt":8.5},{"pan":465,"theta":327,"alt":8.5},{"pan":506,"theta":323,"alt":7.5},{"pan":514,"theta":325,"alt":8.5},{"pan":145,"theta":338,"alt":9},{"pan":190,"theta":331,"alt":9},{"pan":300,"theta":333,"alt":9},{"pan":275,"theta":335,"alt":9}
],
"C": [
{"pan":5,"o3":630},{"pan":8,"o3":618},{"pan":12,"o3":625},{"pan":10,"o3":608},{"pan":6,"o3":642},{"pan":3,"o3":598},{"pan":15,"o3":604},{"pan":14,"o3":452},{"pan":18,"o3":470},{"pan":22,"o3":420},{"pan":25,"o3":402},{"pan":30,"o3":440},{"pan":20,"o3":382},{"pan":40,"o3":482},{"pan":45,"o3":498},{"pan":48,"o3":470},{"pan":35,"o3":312},{"pan":38,"o3":300},{"pan":42,"o3":290},{"pan":52,"o3":250},{"pan":55,"o3":242},{"pan":48,"o3":222},{"pan":28,"o3":352},{"pan":60,"o3":322},{"pan":65,"o3":282},{"pan":441,"o3":236},{"pan":530,"o3":68},{"pan":471,"o3":22},{"pan":25,"o3":330},{"pan":18,"o3":330},{"pan":10,"o3":400},{"pan":14,"o3":500},{"pan":8,"o3":470},
{"pan":2,"o3":690,"alt":17.5},{"pan":3,"o3":680,"alt":17.5},{"pan":4,"o3":655,"alt":17.5},{"pan":2,"o3":650,"alt":18.5},{"pan":5,"o3":600,"alt":17.5},{"pan":4,"o3":560,"alt":17.5},{"pan":6,"o3":550,"alt":17.5},{"pan":3,"o3":545,"alt":17.5},{"pan":8,"o3":520,"alt":17.5},{"pan":2,"o3":620,"alt":17.5},{"pan":10,"o3":480,"alt":17.5},
{"pan":30,"o3":575,"alt":17.5},{"pan":32,"o3":560,"alt":17.5},{"pan":35,"o3":545,"alt":17.5},{"pan":38,"o3":520,"alt":17.5},{"pan":40,"o3":505,"alt":17.5},{"pan":42,"o3":495,"alt":17.5},{"pan":45,"o3":510,"alt":17.5},{"pan":50,"o3":500,"alt":16.5},{"pan":28,"o3":530,"alt":17.5},{"pan":33,"o3":500,"alt":17.5},{"pan":24,"o3":480,"alt":17.5},{"pan":18,"o3":460,"alt":17.5},{"pan":15,"o3":440,"alt":17.5},{"pan":12,"o3":420,"alt":17.5},{"pan":26,"o3":450,"alt":17.5},{"pan":36,"o3":470,"alt":17.5},{"pan":48,"o3":480,"alt":17.5},{"pan":30,"o3":395,"alt":17.5},{"pan":20,"o3":400,"alt":17.5},{"pan":35,"o3":420,"alt":17.5},{"pan":44,"o3":440,"alt":16.5},
{"pan":52,"o3":455,"alt":16.5},{"pan":55,"o3":440,"alt":16.5},{"pan":58,"o3":425,"alt":16.5},{"pan":60,"o3":410,"alt":16.5},{"pan":62,"o3":395,"alt":16.5},{"pan":64,"o3":380,"alt":16.5},{"pan":66,"o3":365,"alt":16.5},{"pan":68,"o3":350,"alt":16.5},{"pan":70,"o3":335,"alt":16.5},{"pan":56,"o3":400,"alt":16.5},{"pan":52,"o3":375,"alt":16.5},{"pan":50,"o3":350,"alt":16.5},{"pan":48,"o3":330,"alt":17.5},{"pan":45,"o3":310,"alt":17.5},{"pan":42,"o3":300,"alt":17.5},{"pan":55,"o3":300,"alt":16.5},{"pan":58,"o3":285,"alt":16.5},{"pan":60,"o3":270,"alt":16.5},{"pan":62,"o3":255,"alt":16.5},{"pan":64,"o3":240,"alt":16.5},{"pan":66,"o3":228,"alt":16.5},{"pan":68,"o3":220,"alt":16.5},{"pan":72,"o3":232,"alt":16.5},{"pan":70,"o3":250,"alt":16.5},{"pan":74,"o3":265,"alt":16.5},{"pan":76,"o3":280,"alt":16.5},{"pan":78,"o3":295,"alt":16.5},{"pan":72,"o3":310,"alt":16.5},{"pan":74,"o3":330,"alt":16.5},{"pan":76,"o3":345,"alt":16.5},{"pan":78,"o3":360,"alt":16.5},{"pan":72,"o3":375,"alt":16.5},{"pan":74,"o3":390,"alt":16.5},{"pan":68,"o3":405,"alt":16.5},{"pan":66,"o3":420,"alt":16.5},{"pan":64,"o3":435,"alt":16.5},{"pan":58,"o3":450,"alt":16.5},{"pan":60,"o3":460,"alt":16.5},{"pan":54,"o3":420,"alt":16.5},{"pan":50,"o3":395,"alt":16.5},{"pan":60,"o3":350,"alt":16.5},{"pan":62,"o3":320,"alt":16.5},{"pan":65,"o3":300,"alt":16.5},{"pan":58,"o3":235,"alt":16.5},{"pan":54,"o3":260,"alt":16.5},{"pan":50,"o3":270,"alt":17.5},{"pan":46,"o3":285,"alt":17.5},{"pan":80,"o3":380,"alt":16.5},{"pan":82,"o3":350,"alt":16.5},{"pan":84,"o3":320,"alt":16.5},{"pan":80,"o3":405,"alt":16.5},{"pan":62,"o3":440,"alt":16.5},{"pan":66,"o3":400,"alt":16.5},{"pan":70,"o3":360,"alt":16.5},{"pan":68,"o3":290,"alt":16.5},{"pan":70,"o3":270,"alt":16.5},{"pan":66,"o3":245,"alt":16.5},{"pan":60,"o3":300,"alt":16.5},{"pan":56,"o3":350,"alt":16.5},
{"pan":75,"o3":305,"alt":15.5},{"pan":80,"o3":290,"alt":15.5},{"pan":82,"o3":275,"alt":15.5},{"pan":85,"o3":260,"alt":15.5},{"pan":88,"o3":250,"alt":15.5},{"pan":86,"o3":235,"alt":15.5},{"pan":84,"o3":220,"alt":15.5},{"pan":80,"o3":210,"alt":15.5},{"pan":78,"o3":195,"alt":15.5},{"pan":82,"o3":180,"alt":15.5},{"pan":85,"o3":165,"alt":15.5},{"pan":88,"o3":150,"alt":15.5},{"pan":90,"o3":140,"alt":15.5},{"pan":86,"o3":130,"alt":15.5},{"pan":92,"o3":125,"alt":15.5},{"pan":94,"o3":110,"alt":15.5},{"pan":96,"o3":100,"alt":14.5},{"pan":98,"o3":90,"alt":14.5},{"pan":100,"o3":80,"alt":14.5},{"pan":102,"o3":70,"alt":14.5},{"pan":104,"o3":60,"alt":14.5},{"pan":106,"o3":50,"alt":14.5},{"pan":108,"o3":45,"alt":14.5},{"pan":110,"o3":40,"alt":14.5},{"pan":112,"o3":55,"alt":14.5},{"pan":114,"o3":65,"alt":14.5},{"pan":116,"o3":75,"alt":14.5},{"pan":118,"o3":85,"alt":14.5},{"pan":120,"o3":95,"alt":14.5},{"pan":122,"o3":105,"alt":14.5},{"pan":100,"o3":115,"alt":14.5},{"pan":104,"o3":125,"alt":14.5},{"pan":108,"o3":135,"alt":14.5},{"pan":96,"o3":145,"alt":15.5},{"pan":92,"o3":170,"alt":15.5},{"pan":95,"o3":190,"alt":15.5},{"pan":90,"o3":205,"alt":15.5},{"pan":93,"o3":225,"alt":15.5},{"pan":97,"o3":240,"alt":14.5},{"pan":100,"o3":255,"alt":14.5},{"pan":103,"o3":270,"alt":14.5},{"pan":106,"o3":285,"alt":14.5},{"pan":110,"o3":298,"alt":14.5},{"pan":115,"o3":300,"alt":13.5},{"pan":118,"o3":290,"alt":13.5},{"pan":112,"o3":270,"alt":14.5},{"pan":109,"o3":250,"alt":14.5},{"pan":105,"o3":230,"alt":14.5},{"pan":102,"o3":210,"alt":14.5},{"pan":98,"o3":195,"alt":14.5},{"pan":100,"o3":175,"alt":14.5},{"pan":104,"o3":160,"alt":14.5},{"pan":108,"o3":150,"alt":14.5},{"pan":112,"o3":140,"alt":14.5},{"pan":116,"o3":130,"alt":14.5},{"pan":120,"o3":120,"alt":14.5},{"pan":124,"o3":110,"alt":13.5},{"pan":88,"o3":110,"alt":15.5},{"pan":84,"o3":100,"alt":15.5},{"pan":92,"o3":95,"alt":14.5},{"pan":96,"o3":75,"alt":14.5},{"pan":98,"o3":55,"alt":14.5},{"pan":102,"o3":45,"alt":14.5},{"pan":106,"o3":65,"alt":14.5},{"pan":110,"o3":80,"alt":14.5},{"pan":114,"o3":90,"alt":14.5},{"pan":118,"o3":60,"alt":13.5},{"pan":122,"o3":50,"alt":13.5},{"pan":115,"o3":35,"alt":13.5},{"pan":125,"o3":70,"alt":13.5},{"pan":128,"o3":85,"alt":13.5},{"pan":90,"o3":70,"alt":14.5},{"pan":94,"o3":60,"alt":14.5},{"pan":80,"o3":135,"alt":15.5},{"pan":76,"o3":155,"alt":15.5},{"pan":72,"o3":175,"alt":15.5},{"pan":66,"o3":164,"alt":11},
{"pan":100,"o3":60,"alt":14.5},{"pan":104,"o3":85,"alt":14.5},{"pan":108,"o3":100,"alt":14.5},{"pan":112,"o3":110,"alt":14.5},{"pan":116,"o3":100,"alt":14.5},{"pan":106,"o3":120,"alt":14.5},{"pan":110,"o3":58,"alt":14.5},{"pan":114,"o3":48,"alt":14.5},{"pan":118,"o3":72,"alt":13.5},{"pan":96,"o3":120,"alt":15.5},{"pan":92,"o3":140,"alt":15.5},{"pan":100,"o3":140,"alt":14.5},{"pan":98,"o3":160,"alt":15.5},{"pan":94,"o3":155,"alt":15.5},{"pan":104,"o3":185,"alt":14.5},{"pan":108,"o3":200,"alt":14.5},{"pan":112,"o3":220,"alt":14.5},{"pan":116,"o3":250,"alt":14.5},{"pan":120,"o3":270,"alt":13.5},{"pan":108,"o3":175,"alt":14.5},
{"pan":125,"o3":290,"alt":13.5},{"pan":130,"o3":280,"alt":13.5},{"pan":135,"o3":270,"alt":13.5},{"pan":140,"o3":295,"alt":13.5},{"pan":145,"o3":285,"alt":12.5},{"pan":150,"o3":280,"alt":12.5},{"pan":160,"o3":275,"alt":12.5},{"pan":170,"o3":265,"alt":12.5},{"pan":180,"o3":270,"alt":12.5},{"pan":190,"o3":280,"alt":12.5},{"pan":200,"o3":260,"alt":12.5},{"pan":210,"o3":250,"alt":12.5},{"pan":220,"o3":265,"alt":12.5},{"pan":230,"o3":255,"alt":12.5},{"pan":240,"o3":245,"alt":12.5},{"pan":250,"o3":235,"alt":12.5},{"pan":135,"o3":240,"alt":13.5},{"pan":145,"o3":225,"alt":13.5},{"pan":155,"o3":215,"alt":12.5},{"pan":165,"o3":205,"alt":12.5},{"pan":175,"o3":195,"alt":12.5},{"pan":185,"o3":210,"alt":12.5},{"pan":195,"o3":190,"alt":12.5},{"pan":130,"o3":200,"alt":13.5},{"pan":140,"o3":185,"alt":13.5},{"pan":150,"o3":175,"alt":12.5},{"pan":160,"o3":160,"alt":12.5},{"pan":170,"o3":150,"alt":12.5},{"pan":128,"o3":160,"alt":13.5},{"pan":135,"o3":145,"alt":13.5},{"pan":125,"o3":130,"alt":13.5},{"pan":130,"o3":115,"alt":13.5},{"pan":135,"o3":100,"alt":13.5},{"pan":140,"o3":90,"alt":13.5},{"pan":145,"o3":80,"alt":12.5},{"pan":150,"o3":70,"alt":12.5},{"pan":155,"o3":85,"alt":12.5},{"pan":160,"o3":95,"alt":12.5},{"pan":165,"o3":105,"alt":12.5},{"pan":130,"o3":75,"alt":13.5},{"pan":135,"o3":60,"alt":13.5},{"pan":140,"o3":50,"alt":13.5},{"pan":128,"o3":45,"alt":13.5},{"pan":145,"o3":110,"alt":12.5},{"pan":150,"o3":120,"alt":12.5},{"pan":205,"o3":220,"alt":12.5},{"pan":215,"o3":200,"alt":12.5},{"pan":225,"o3":210,"alt":12.5},{"pan":235,"o3":195,"alt":12.5},{"pan":245,"o3":215,"alt":12.5},{"pan":255,"o3":225,"alt":12.5},{"pan":265,"o3":205,"alt":12.5},{"pan":275,"o3":215,"alt":12.5},{"pan":285,"o3":235,"alt":12.5},{"pan":295,"o3":200,"alt":12.5},{"pan":305,"o3":210,"alt":12.5},{"pan":315,"o3":190,"alt":12.5},{"pan":325,"o3":215,"alt":12.5},{"pan":335,"o3":200,"alt":12.5},{"pan":345,"o3":185,"alt":12.5},{"pan":270,"o3":240,"alt":12.5},{"pan":290,"o3":250,"alt":12.5},{"pan":360,"o3":190,"alt":12.5},{"pan":380,"o3":195,"alt":12.5},{"pan":395,"o3":185,"alt":12.5},{"pan":410,"o3":180,"alt":12.5},{"pan":420,"o3":175,"alt":12.5},{"pan":365,"o3":340,"alt":11},
{"pan":160,"o3":150,"alt":11},{"pan":175,"o3":145,"alt":11},{"pan":190,"o3":155,"alt":11},{"pan":205,"o3":148,"alt":11},{"pan":220,"o3":152,"alt":11},{"pan":235,"o3":145,"alt":11},{"pan":250,"o3":150,"alt":11},{"pan":265,"o3":143,"alt":11},{"pan":280,"o3":148,"alt":11},{"pan":295,"o3":152,"alt":11},{"pan":310,"o3":146,"alt":11},{"pan":325,"o3":150,"alt":11},{"pan":340,"o3":144,"alt":11},{"pan":355,"o3":148,"alt":11},{"pan":370,"o3":152,"alt":11},{"pan":385,"o3":146,"alt":11},{"pan":400,"o3":150,"alt":11},{"pan":415,"o3":144,"alt":11},{"pan":430,"o3":148,"alt":11},{"pan":445,"o3":152,"alt":11},{"pan":460,"o3":146,"alt":11},
{"pan":165,"o3":125,"alt":11},{"pan":180,"o3":120,"alt":11},{"pan":195,"o3":128,"alt":11},{"pan":210,"o3":122,"alt":11},{"pan":225,"o3":126,"alt":11},{"pan":240,"o3":120,"alt":11},{"pan":255,"o3":125,"alt":11},{"pan":270,"o3":118,"alt":11},{"pan":285,"o3":124,"alt":11},{"pan":300,"o3":128,"alt":11},{"pan":315,"o3":121,"alt":11},{"pan":330,"o3":126,"alt":11},{"pan":345,"o3":119,"alt":11},{"pan":360,"o3":124,"alt":11},{"pan":375,"o3":128,"alt":11},{"pan":390,"o3":121,"alt":11},{"pan":405,"o3":126,"alt":11},{"pan":420,"o3":119,"alt":11},{"pan":435,"o3":124,"alt":11},{"pan":450,"o3":128,"alt":11},{"pan":465,"o3":122,"alt":11},{"pan":478,"o3":125,"alt":11},
{"pan":170,"o3":105,"alt":11},{"pan":185,"o3":100,"alt":11},{"pan":200,"o3":108,"alt":11},{"pan":215,"o3":102,"alt":11},{"pan":230,"o3":106,"alt":11},{"pan":245,"o3":100,"alt":11},{"pan":260,"o3":104,"alt":11},{"pan":275,"o3":98,"alt":11},{"pan":290,"o3":104,"alt":11},{"pan":305,"o3":108,"alt":11},{"pan":320,"o3":101,"alt":11},{"pan":335,"o3":106,"alt":11},{"pan":350,"o3":99,"alt":11},{"pan":365,"o3":104,"alt":11},{"pan":380,"o3":108,"alt":11},{"pan":395,"o3":101,"alt":11},{"pan":410,"o3":106,"alt":11},{"pan":425,"o3":99,"alt":11},{"pan":440,"o3":104,"alt":11},{"pan":455,"o3":108,"alt":11},{"pan":470,"o3":101,"alt":11},
{"pan":180,"o3":85,"alt":11},{"pan":195,"o3":80,"alt":11},{"pan":210,"o3":88,"alt":11},{"pan":225,"o3":82,"alt":11},{"pan":240,"o3":86,"alt":11},{"pan":255,"o3":80,"alt":11},{"pan":270,"o3":84,"alt":11},{"pan":285,"o3":78,"alt":11},{"pan":300,"o3":84,"alt":11},{"pan":315,"o3":88,"alt":11},{"pan":330,"o3":81,"alt":11},{"pan":345,"o3":86,"alt":11},{"pan":360,"o3":79,"alt":11},{"pan":375,"o3":84,"alt":11},{"pan":390,"o3":88,"alt":11},{"pan":405,"o3":81,"alt":11},{"pan":420,"o3":86,"alt":11},{"pan":435,"o3":79,"alt":11},{"pan":450,"o3":84,"alt":11},{"pan":465,"o3":88,"alt":11},
{"pan":190,"o3":110,"alt":11},{"pan":220,"o3":115,"alt":11},{"pan":250,"o3":112,"alt":11},{"pan":280,"o3":92,"alt":11},{"pan":310,"o3":115,"alt":11},{"pan":340,"o3":95,"alt":11},{"pan":370,"o3":115,"alt":11},{"pan":400,"o3":93,"alt":11},{"pan":430,"o3":113,"alt":11},{"pan":460,"o3":95,"alt":11},{"pan":205,"o3":95,"alt":11},{"pan":235,"o3":92,"alt":11},{"pan":265,"o3":130,"alt":11},{"pan":295,"o3":138,"alt":11},{"pan":325,"o3":110,"alt":11},{"pan":355,"o3":138,"alt":11},{"pan":385,"o3":95,"alt":11},{"pan":415,"o3":135,"alt":11},{"pan":445,"o3":112,"alt":11},{"pan":175,"o3":90,"alt":11},
{"pan":200,"o3":65,"alt":11},{"pan":230,"o3":62,"alt":11},{"pan":260,"o3":68,"alt":11},{"pan":285,"o3":60,"alt":11},{"pan":300,"o3":66,"alt":11},{"pan":315,"o3":58,"alt":11},{"pan":372,"o3":61,"alt":11},{"pan":400,"o3":66,"alt":11},{"pan":430,"o3":60,"alt":11},{"pan":455,"o3":64,"alt":11},
{"pan":175,"o3":175,"alt":11},{"pan":200,"o3":180,"alt":11},{"pan":225,"o3":170,"alt":11},{"pan":250,"o3":185,"alt":11},{"pan":275,"o3":172,"alt":11},{"pan":300,"o3":178,"alt":11},{"pan":320,"o3":168,"alt":11},{"pan":345,"o3":175,"alt":11},{"pan":370,"o3":165,"alt":11},{"pan":395,"o3":172,"alt":11},{"pan":420,"o3":168,"alt":11},{"pan":445,"o3":160,"alt":11},{"pan":265,"o3":190,"alt":11},{"pan":330,"o3":190,"alt":11},{"pan":383,"o3":155,"alt":11},{"pan":470,"o3":160,"alt":11},
{"pan":326,"o3":28,"alt":11},{"pan":248,"o3":17,"alt":11},{"pan":565,"o3":70,"alt":11},{"pan":594,"o3":37,"alt":11},{"pan":620,"o3":39,"alt":11},
{"pan":340,"o3":64,"alt":10},{"pan":432,"o3":17,"alt":10},{"pan":586,"o3":28,"alt":10},{"pan":210,"o3":130,"alt":10},{"pan":280,"o3":110,"alt":10},{"pan":320,"o3":95,"alt":10},{"pan":350,"o3":130,"alt":10},{"pan":400,"o3":115,"alt":10},{"pan":440,"o3":92,"alt":10},{"pan":460,"o3":78,"alt":10},
{"pan":136,"o3":124,"alt":8.5},{"pan":140,"o3":130,"alt":8.5},{"pan":162,"o3":128,"alt":8.5},{"pan":175,"o3":130,"alt":8.5},{"pan":190,"o3":127,"alt":8.5},{"pan":205,"o3":126,"alt":8.5},{"pan":209,"o3":61,"alt":8.5},{"pan":261,"o3":24,"alt":8.5},{"pan":463,"o3":256,"alt":8.5},{"pan":505,"o3":34,"alt":8.5},{"pan":514,"o3":34,"alt":8.5},{"pan":472,"o3":72,"alt":8.5},{"pan":461,"o3":83,"alt":8.5},{"pan":418,"o3":76,"alt":8.5},{"pan":220,"o3":140,"alt":8.5},{"pan":255,"o3":135,"alt":8.5},{"pan":290,"o3":130,"alt":8.5},{"pan":300,"o3":118,"alt":8.5},{"pan":330,"o3":135,"alt":8.5},{"pan":365,"o3":120,"alt":8.5},{"pan":380,"o3":110,"alt":8.5},{"pan":395,"o3":98,"alt":8.5},{"pan":410,"o3":92,"alt":8.5},{"pan":425,"o3":110,"alt":8.5},{"pan":445,"o3":120,"alt":8.5},{"pan":200,"o3":232,"alt":8.5},{"pan":280,"o3":105,"alt":8.5},{"pan":153,"o3":140,"alt":8.5},{"pan":185,"o3":140,"alt":8.5},{"pan":240,"o3":115,"alt":8.5},{"pan":313,"o3":223,"alt":8.5}
]
},
"columns": 2,
"align": "each",
"spacing": {"row": 23.4, "column": 6},
"concat": [
{
 "title": {"text": "a)", "dx": 0, "dy": -9},
 "width": 448, "height": 328,
 "data": {"name": "A"},
 "layer": [
  {"transform": [{"filter": "!isValid(datum.alt)"}],
   "mark": {"type": "point", "shape": "M-1,0L1,0M0,-1L0,1M-0.71,-0.71L0.71,0.71M-0.71,0.71L0.71,-0.71", "filled": false, "size": 48, "strokeWidth": 1.2, "color": "#cccccc", "opacity": 0.9},
   "encoding": {
    "x": {"field": "o3", "type": "quantitative", "scale": {"domain": [0, 700], "nice": false, "zero": false},
      "axis": {"title": "O3 [ppbV]", "values": [0,10,20,30,40,50,60,70,80,90,100,110,120,130,140,150,160,170,180,190,200,210,220,230,240,250,260,270,280,290,300,310,320,330,340,350,360,370,380,390,400,410,420,430,440,450,460,470,480,490,500,510,520,530,540,550,560,570,580,590,600,610,620,630,640,650,660,670,680,690,700], "labelExpr": "datum.value % 100 == 0 ? datum.label : ''", "labelPadding": 14, "titlePadding": 17, "grid": true, "gridOpacity": {"condition": {"test": "datum.value % 100 == 0 && datum.value > 0 && datum.value < 700", "value": 1}, "value": 0}}},
    "y": {"field": "theta", "type": "quantitative", "scale": {"domain": [297, 450], "nice": false, "zero": false},
      "axis": {"title": "Theta [K]", "values": [300,305,310,315,320,325,330,335,340,345,350,355,360,365,370,375,380,385,390,395,400,405,410,415,420,425,430,435,440,445,450], "labelExpr": "datum.value % 20 == 0 ? datum.label : ''", "labelPadding": 11, "titlePadding": 29, "grid": true, "gridOpacity": {"condition": {"test": "datum.value % 20 == 0 && datum.value > 300", "value": 1}, "value": 0}}}
   }},
  {"transform": [{"filter": "isValid(datum.alt)"}],
   "mark": {"type": "point", "shape": "M-1,0L1,0M0,-1L0,1M-0.71,-0.71L0.71,0.71M-0.71,0.71L0.71,-0.71", "filled": false, "size": 48, "strokeWidth": 1.2, "opacity": 0.9},
   "encoding": {
    "x": {"field": "o3", "type": "quantitative", "axis": null},
    "y": {"field": "theta", "type": "quantitative", "axis": null},
    "color": {"field": "alt", "type": "quantitative", "legend": null, "scale": {"type": "threshold", "domain": [6,7,8,9,10.5,12,13,14,15,16,17,18,19,20], "range": ["#0055FF","#0A66FA","#0A7CF0","#00A0E6","#3EB8A0","#7ADB5A","#A8EC3C","#D4F040","#F8F23E","#FFDA3A","#FFB433","#FF962E","#FF7A2A","#FF5527","#FF3A22"]}}
   }},
  {"mark": {"type": "point", "opacity": 0},
   "encoding": {
    "x": {"field": "o3", "type": "quantitative", "axis": {"orient": "top", "title": null, "labels": false, "grid": false, "values": [0,10,20,30,40,50,60,70,80,90,100,110,120,130,140,150,160,170,180,190,200,210,220,230,240,250,260,270,280,290,300,310,320,330,340,350,360,370,380,390,400,410,420,430,440,450,460,470,480,490,500,510,520,530,540,550,560,570,580,590,600,610,620,630,640,650,660,670,680,690,700]}},
    "y": {"field": "theta", "type": "quantitative", "axis": {"orient": "right", "title": null, "labels": false, "grid": false, "values": [300,305,310,315,320,325,330,335,340,345,350,355,360,365,370,375,380,385,390,395,400,405,410,415,420,425,430,435,440,445,450]}}
   }}
 ],
 "resolve": {"axis": {"x": "independent", "y": "independent"}}
},
{
 "width": 33, "height": 328,
 "data": {"name": "bar"},
 "mark": {"type": "rect"},
 "encoding": {
  "y": {"field": "alt", "type": "ordinal", "sort": "descending", "scale": {"paddingInner": 0, "paddingOuter": 0},
    "axis": {"orient": "right", "values": [5,7,9,12,14,16,18,20], "labelExpr": "format(datum.value, '.1f')", "labelOffset": 11, "labelAlign": "right", "labelPadding": 60, "ticks": false, "domain": false, "grid": false, "title": "Altitude [km]", "titleAngle": 0, "titleX": 20, "titleY": -22, "titleAlign": "center", "titleBaseline": "alphabetic", "titlePadding": 0}},
  "color": {"field": "alt", "type": "quantitative", "legend": null, "scale": {"type": "threshold", "domain": [6,7,8,9,10.5,12,13,14,15,16,17,18,19,20], "range": ["#0055FF","#0A66FA","#0A7CF0","#00A0E6","#3EB8A0","#7ADB5A","#A8EC3C","#D4F040","#F8F23E","#FFDA3A","#FFB433","#FF962E","#FF7A2A","#FF5527","#FF3A22"]}}
 }
},
{
 "title": {"text": "b)", "dx": 7, "dy": 10.8},
 "width": 448, "height": 328,
 "data": {"name": "B"},
 "layer": [
  {"transform": [{"filter": "isValid(datum.alt)"}],
   "mark": {"type": "point", "shape": "M-1,0L1,0M0,-1L0,1M-0.71,-0.71L0.71,0.71M-0.71,0.71L0.71,-0.71", "filled": false, "size": 48, "strokeWidth": 1.2, "opacity": 0.9},
   "encoding": {
    "x": {"field": "pan", "type": "quantitative", "scale": {"domain": [0, 700], "nice": false, "zero": false},
      "axis": {"title": "PAN [pptV]", "values": [0,10,20,30,40,50,60,70,80,90,100,110,120,130,140,150,160,170,180,190,200,210,220,230,240,250,260,270,280,290,300,310,320,330,340,350,360,370,380,390,400,410,420,430,440,450,460,470,480,490,500,510,520,530,540,550,560,570,580,590,600,610,620,630,640,650,660,670,680,690,700], "labelExpr": "datum.value % 100 == 0 ? datum.label : ''", "labelPadding": 14, "titlePadding": 17, "grid": true, "gridOpacity": {"condition": {"test": "datum.value % 100 == 0 && datum.value > 0 && datum.value < 700", "value": 1}, "value": 0}}},
    "y": {"field": "theta", "type": "quantitative", "scale": {"domain": [297, 450], "nice": false, "zero": false},
      "axis": {"title": "Theta [K]", "values": [300,305,310,315,320,325,330,335,340,345,350,355,360,365,370,375,380,385,390,395,400,405,410,415,420,425,430,435,440,445,450], "labelExpr": "datum.value % 20 == 0 ? datum.label : ''", "labelPadding": 11, "titlePadding": 29, "grid": true, "gridOpacity": {"condition": {"test": "datum.value % 20 == 0 && datum.value > 300", "value": 1}, "value": 0}}},
    "color": {"field": "alt", "type": "quantitative", "legend": null, "scale": {"type": "threshold", "domain": [6,7,8,9,10.5,12,13,14,15,16,17,18,19,20], "range": ["#0055FF","#0A66FA","#0A7CF0","#00A0E6","#3EB8A0","#7ADB5A","#A8EC3C","#D4F040","#F8F23E","#FFDA3A","#FFB433","#FF962E","#FF7A2A","#FF5527","#FF3A22"]}}
   }},
  {"mark": {"type": "point", "opacity": 0},
   "encoding": {
    "x": {"field": "pan", "type": "quantitative", "axis": {"orient": "top", "title": null, "labels": false, "grid": false, "values": [0,10,20,30,40,50,60,70,80,90,100,110,120,130,140,150,160,170,180,190,200,210,220,230,240,250,260,270,280,290,300,310,320,330,340,350,360,370,380,390,400,410,420,430,440,450,460,470,480,490,500,510,520,530,540,550,560,570,580,590,600,610,620,630,640,650,660,670,680,690,700]}},
    "y": {"field": "theta", "type": "quantitative", "axis": {"orient": "right", "title": null, "labels": false, "grid": false, "values": [300,305,310,315,320,325,330,335,340,345,350,355,360,365,370,375,380,385,390,395,400,405,410,415,420,425,430,435,440,445,450]}}
   }}
 ],
 "resolve": {"axis": {"x": "independent", "y": "independent"}}
},
{
 "width": 1, "height": 1,
 "data": {"values": []},
 "mark": {"type": "point", "opacity": 0}
},
{
 "title": {"text": "c)", "dx": 1, "dy": 11},
 "width": 448, "height": 328,
 "data": {"name": "C"},
 "layer": [
  {"data": {"values": [{}]},
   "mark": {"type": "rect", "fill": "#ee88ee", "fillOpacity": 0.15, "strokeWidth": 0},
   "encoding": {
    "x": {"datum": 120, "type": "quantitative", "axis": null},
    "x2": {"datum": 700},
    "y": {"datum": 100, "type": "quantitative", "axis": null},
    "y2": {"datum": 713}
   }},
  {"transform": [{"filter": "!isValid(datum.alt)"}],
   "mark": {"type": "point", "shape": "M-1,0L1,0M0,-1L0,1M-0.71,-0.71L0.71,0.71M-0.71,0.71L0.71,-0.71", "filled": false, "size": 48, "strokeWidth": 1.2, "color": "#cccccc", "opacity": 0.9},
   "encoding": {
    "x": {"field": "pan", "type": "quantitative", "scale": {"domain": [0, 700], "nice": false, "zero": false},
      "axis": {"title": "PAN [pptV]", "values": [0,10,20,30,40,50,60,70,80,90,100,110,120,130,140,150,160,170,180,190,200,210,220,230,240,250,260,270,280,290,300,310,320,330,340,350,360,370,380,390,400,410,420,430,440,450,460,470,480,490,500,510,520,530,540,550,560,570,580,590,600,610,620,630,640,650,660,670,680,690,700], "labelExpr": "datum.value % 100 == 0 ? datum.label : ''", "labelPadding": 14, "titlePadding": 17, "grid": true, "gridOpacity": {"condition": {"test": "datum.value % 100 == 0 && datum.value > 0 && datum.value < 700", "value": 1}, "value": 0}}},
    "y": {"field": "o3", "type": "quantitative", "scale": {"domain": [-11, 713], "nice": false, "zero": false},
      "axis": {"title": "O3 [ppbV]", "values": [0,10,20,30,40,50,60,70,80,90,100,110,120,130,140,150,160,170,180,190,200,210,220,230,240,250,260,270,280,290,300,310,320,330,340,350,360,370,380,390,400,410,420,430,440,450,460,470,480,490,500,510,520,530,540,550,560,570,580,590,600,610,620,630,640,650,660,670,680,690,700,710], "labelExpr": "datum.value % 100 == 0 ? datum.label : ''", "labelPadding": 11, "titlePadding": 29, "grid": true, "gridOpacity": {"condition": {"test": "datum.value % 100 == 0 && datum.value > 0", "value": 1}, "value": 0}}}
   }},
  {"transform": [{"filter": "isValid(datum.alt)"}],
   "mark": {"type": "point", "shape": "M-1,0L1,0M0,-1L0,1M-0.71,-0.71L0.71,0.71M-0.71,0.71L0.71,-0.71", "filled": false, "size": 48, "strokeWidth": 1.2, "opacity": 0.9},
   "encoding": {
    "x": {"field": "pan", "type": "quantitative", "axis": null},
    "y": {"field": "o3", "type": "quantitative", "axis": null},
    "color": {"field": "alt", "type": "quantitative", "legend": null, "scale": {"type": "threshold", "domain": [6,7,8,9,10.5,12,13,14,15,16,17,18,19,20], "range": ["#0055FF","#0A66FA","#0A7CF0","#00A0E6","#3EB8A0","#7ADB5A","#A8EC3C","#D4F040","#F8F23E","#FFDA3A","#FFB433","#FF962E","#FF7A2A","#FF5527","#FF3A22"]}}
   }},
  {"data": {"values": [{}]},
   "mark": {"type": "rule", "color": "#f580f0", "strokeWidth": 3, "strokeDash": [7, 5]},
   "encoding": {"x": {"datum": 120, "type": "quantitative", "axis": null}}},
  {"data": {"values": [{}]},
   "mark": {"type": "rule", "color": "#f580f0", "strokeWidth": 3, "strokeDash": [7, 5]},
   "encoding": {"y": {"datum": 100, "type": "quantitative", "axis": null}}},
  {"mark": {"type": "point", "opacity": 0},
   "encoding": {
    "x": {"field": "pan", "type": "quantitative", "axis": {"orient": "top", "title": null, "labels": false, "grid": false, "values": [0,10,20,30,40,50,60,70,80,90,100,110,120,130,140,150,160,170,180,190,200,210,220,230,240,250,260,270,280,290,300,310,320,330,340,350,360,370,380,390,400,410,420,430,440,450,460,470,480,490,500,510,520,530,540,550,560,570,580,590,600,610,620,630,640,650,660,670,680,690,700]}},
    "y": {"field": "o3", "type": "quantitative", "axis": {"orient": "right", "title": null, "labels": false, "grid": false, "values": [0,10,20,30,40,50,60,70,80,90,100,110,120,130,140,150,160,170,180,190,200,210,220,230,240,250,260,270,280,290,300,310,320,330,340,350,360,370,380,390,400,410,420,430,440,450,460,470,480,490,500,510,520,530,540,550,560,570,580,590,600,610,620,630,640,650,660,670,680,690,700,710]}}
   }}
 ],
 "resolve": {"axis": {"x": "independent", "y": "independent"}}
}
]
}
